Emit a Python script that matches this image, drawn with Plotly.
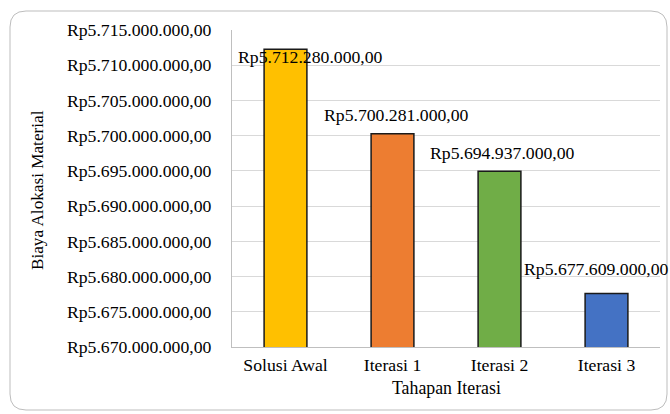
import plotly.graph_objects as go

categories = ["Solusi Awal", "Iterasi 1", "Iterasi 2", "Iterasi 3"]
values = [5712280000, 5700281000, 5694937000, 5677609000]
colors = ["#FFC000", "#ED7D31", "#70AD47", "#4472C4"]
tick_vals = [5670000000 + 5000000 * i for i in range(10)]


def rp(v):
    s = f"{v:,.2f}"
    s = s.replace(",", "X").replace(".", ",").replace("X", ".")
    return "Rp" + s


tick_text = [rp(v) for v in tick_vals]
label_text = [rp(v) for v in values]
label_shift = [(25, -8), (4, 19), (3, 18), (-10, 24)]

FONT = "Liberation Serif, Times New Roman, serif"
FS = 17.7
W, H = 670, 414
L, R, T, B = 232, 10, 30, 67
PW, PH = W - L - R, H - T - B

fig = go.Figure(
    go.Bar(
        x=categories,
        y=values,
        marker=dict(color=colors, line=dict(color="#1a1a1a", width=1.5)),
        width=0.4,
    )
)

for c, v, t, (dx, dy) in zip(categories, values, label_text, label_shift):
    fig.add_annotation(
        x=c, y=v, text=t, showarrow=False, xshift=dx, yshift=dy,
        font=dict(family=FONT, size=FS, color="#000"),
        xanchor="center", yanchor="middle",
    )


def px2paper(px, py):
    return (px - L) / PW, (H - B - py) / PH


x0, y0, x1, y1, r = 10, 11, 667, 410, 16
ax0, ay0 = px2paper(x0, y0)
ax1, ay1 = px2paper(x1, y1)
rx, ry = r / PW, r / PH
path = (
    f"M{ax0+rx},{ay0} L{ax1-rx},{ay0} Q{ax1},{ay0} {ax1},{ay0-ry} "
    f"L{ax1},{ay1+ry} Q{ax1},{ay1} {ax1-rx},{ay1} "
    f"L{ax0+rx},{ay1} Q{ax0},{ay1} {ax0},{ay1+ry} "
    f"L{ax0},{ay0-ry} Q{ax0},{ay0} {ax0+rx},{ay0} Z"
)
fig.add_shape(type="path", xref="paper", yref="paper", path=path,
              line=dict(color="#bdbdbd", width=1), layer="below")

tx, ty = px2paper(37, 190)
fig.add_annotation(x=tx, y=ty, xref="paper", yref="paper", text="Biaya Alokasi Material",
                   textangle=-90, showarrow=False, xanchor="center", yanchor="middle",
                   font=dict(family=FONT, size=17.2, color="#000"))
tx, ty = px2paper(446, 388)
fig.add_annotation(x=tx, y=ty, xref="paper", yref="paper", text="Tahapan Iterasi",
                   showarrow=False, xanchor="center", yanchor="middle",
                   font=dict(family=FONT, size=17.8, color="#000"))

fig.update_layout(
    width=W, height=H,
    margin=dict(l=L, r=R, t=T, b=B, autoexpand=False),
    paper_bgcolor="white", plot_bgcolor="white",
    showlegend=False,
    font=dict(family=FONT, size=FS, color="#000"),
    xaxis=dict(range=[-0.5, len(categories) - 0.5], autorange=False,
               showline=True, linecolor="#bfbfbf", linewidth=1.2, ticks="",
               automargin=False,
               tickfont=dict(family=FONT, size=FS, color="#000"),
               ticklabelstandoff=2),
    yaxis=dict(range=[5670000000, 5715000000], autorange=False,
               tickvals=tick_vals, ticktext=tick_text,
               showgrid=True, gridcolor="#d9d9d9", gridwidth=1,
               showline=True, linecolor="#bfbfbf", linewidth=1.2,
               zeroline=False, ticks="", automargin=False,
               tickfont=dict(family=FONT, size=FS, color="#000"),
               ticklabelstandoff=16),
)

fig.write_html("out.html")
